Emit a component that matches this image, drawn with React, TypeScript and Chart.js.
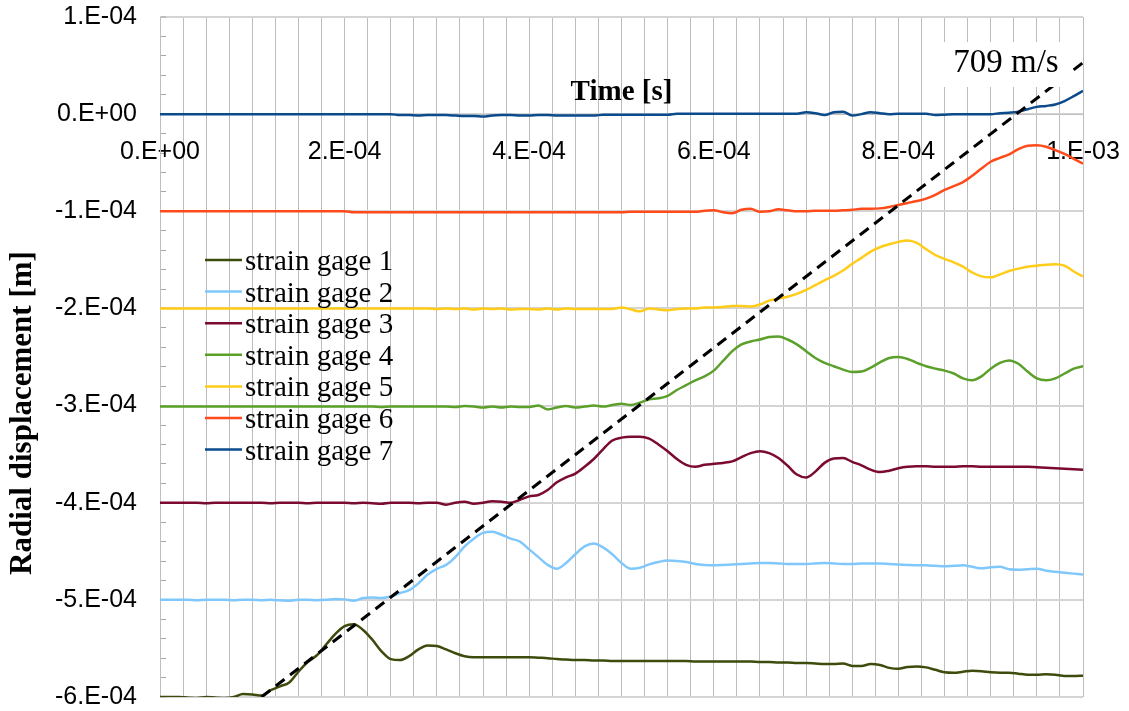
import { useEffect, useRef } from 'react';
import { Chart, registerables } from 'chart.js';

Chart.register(...registerables);

// ---------- DATA ----------
const times = [
  0, 1e-5, 2e-5, 3e-5, 4e-5, 5e-5, 6e-5, 7e-5, 8e-5, 9e-5,
  10e-5, 11e-5, 12e-5, 13e-5, 14e-5, 15e-5, 16e-5, 17e-5, 18e-5, 19e-5,
  20e-5, 21e-5, 22e-5, 23e-5, 24e-5, 25e-5, 26e-5, 27e-5, 28e-5, 29e-5,
  30e-5, 31e-5, 32e-5, 33e-5, 34e-5, 35e-5, 36e-5, 37e-5, 38e-5, 39e-5,
  40e-5, 41e-5, 42e-5, 43e-5, 44e-5, 45e-5, 46e-5, 47e-5, 48e-5, 49e-5,
  50e-5, 51e-5, 52e-5, 53e-5, 54e-5, 55e-5, 56e-5, 57e-5, 58e-5, 59e-5,
  60e-5, 61e-5, 62e-5, 63e-5, 64e-5, 65e-5, 66e-5, 67e-5, 68e-5, 69e-5,
  70e-5, 71e-5, 72e-5, 73e-5, 74e-5, 75e-5, 76e-5, 77e-5, 78e-5, 79e-5,
  80e-5, 81e-5, 82e-5, 83e-5, 84e-5, 85e-5, 86e-5, 87e-5, 88e-5, 89e-5,
  90e-5, 91e-5, 92e-5, 93e-5, 94e-5, 95e-5, 96e-5, 97e-5, 98e-5, 99e-5,
  100e-5,
];

const gage1 = [
  -6.0e-4, -6.0e-4, -6.0e-4, -6.005e-4, -6.01e-4, -6.0e-4, -6.005e-4, -6.01e-4, -6.0e-4, -5.97e-4,
  -5.975e-4, -5.985e-4, -5.93e-4, -5.89e-4, -5.85e-4, -5.74e-4, -5.64e-4, -5.57e-4, -5.46e-4, -5.35e-4,
  -5.27e-4, -5.25e-4, -5.31e-4, -5.41e-4, -5.53e-4, -5.61e-4, -5.62e-4, -5.58e-4, -5.51e-4, -5.47e-4,
  -5.475e-4, -5.51e-4, -5.55e-4, -5.58e-4, -5.59e-4, -5.59e-4, -5.59e-4, -5.59e-4, -5.59e-4, -5.59e-4,
  -5.59e-4, -5.595e-4, -5.6e-4, -5.61e-4, -5.615e-4, -5.62e-4, -5.62e-4, -5.625e-4, -5.625e-4, -5.63e-4,
  -5.63e-4, -5.63e-4, -5.63e-4, -5.63e-4, -5.63e-4, -5.63e-4, -5.63e-4, -5.63e-4, -5.635e-4, -5.635e-4,
  -5.635e-4, -5.635e-4, -5.635e-4, -5.635e-4, -5.635e-4, -5.64e-4, -5.64e-4, -5.645e-4, -5.645e-4, -5.65e-4,
  -5.65e-4, -5.655e-4, -5.66e-4, -5.66e-4, -5.655e-4, -5.68e-4, -5.68e-4, -5.66e-4, -5.67e-4, -5.7e-4,
  -5.71e-4, -5.69e-4, -5.685e-4, -5.695e-4, -5.72e-4, -5.745e-4, -5.75e-4, -5.74e-4, -5.73e-4, -5.735e-4,
  -5.745e-4, -5.75e-4, -5.75e-4, -5.76e-4, -5.77e-4, -5.77e-4, -5.765e-4, -5.77e-4, -5.785e-4, -5.785e-4,
  -5.78e-4,
];

const gage2 = [
  -5.0e-4, -5.0e-4, -5.0e-4, -5.0e-4, -5.005e-4, -5.0e-4, -5.0e-4, -5.0e-4, -5.005e-4, -5.0e-4,
  -5.0e-4, -5.005e-4, -5.0e-4, -5.005e-4, -5.01e-4, -5.0e-4, -5.0e-4, -5.005e-4, -5.0e-4, -4.99e-4,
  -4.995e-4, -5.01e-4, -4.98e-4, -4.975e-4, -4.98e-4, -4.965e-4, -4.93e-4, -4.9e-4, -4.83e-4, -4.74e-4,
  -4.68e-4, -4.64e-4, -4.56e-4, -4.45e-4, -4.37e-4, -4.31e-4, -4.3e-4, -4.33e-4, -4.37e-4, -4.4e-4,
  -4.48e-4, -4.56e-4, -4.64e-4, -4.68e-4, -4.62e-4, -4.53e-4, -4.45e-4, -4.42e-4, -4.46e-4, -4.53e-4,
  -4.62e-4, -4.68e-4, -4.67e-4, -4.635e-4, -4.61e-4, -4.595e-4, -4.6e-4, -4.61e-4, -4.63e-4, -4.64e-4,
  -4.645e-4, -4.64e-4, -4.635e-4, -4.63e-4, -4.625e-4, -4.62e-4, -4.62e-4, -4.625e-4, -4.63e-4, -4.63e-4,
  -4.63e-4, -4.625e-4, -4.62e-4, -4.625e-4, -4.63e-4, -4.63e-4, -4.625e-4, -4.625e-4, -4.625e-4, -4.63e-4,
  -4.635e-4, -4.64e-4, -4.645e-4, -4.645e-4, -4.65e-4, -4.655e-4, -4.65e-4, -4.645e-4, -4.66e-4, -4.675e-4,
  -4.665e-4, -4.66e-4, -4.685e-4, -4.69e-4, -4.685e-4, -4.68e-4, -4.7e-4, -4.71e-4, -4.72e-4, -4.73e-4,
  -4.74e-4,
];

const gage3 = [
  -4.0e-4, -4.0e-4, -4.0e-4, -4.0e-4, -4.0e-4, -4.005e-4, -4.0e-4, -4.0e-4, -4.0e-4, -4.0e-4,
  -4.0e-4, -4.0e-4, -4.005e-4, -4.0e-4, -4.0e-4, -4.0e-4, -4.005e-4, -4.0e-4, -4.0e-4, -4.0e-4,
  -4.0e-4, -4.005e-4, -4.0e-4, -4.005e-4, -4.01e-4, -4.0e-4, -4.0e-4, -4.0e-4, -4.005e-4, -4.0e-4,
  -4.0e-4, -4.02e-4, -4.0e-4, -3.99e-4, -4.01e-4, -4.0e-4, -3.985e-4, -3.99e-4, -4.0e-4, -3.97e-4,
  -3.935e-4, -3.92e-4, -3.87e-4, -3.79e-4, -3.74e-4, -3.7e-4, -3.63e-4, -3.55e-4, -3.45e-4, -3.36e-4,
  -3.33e-4, -3.32e-4, -3.32e-4, -3.34e-4, -3.4e-4, -3.47e-4, -3.55e-4, -3.61e-4, -3.63e-4, -3.61e-4,
  -3.6e-4, -3.59e-4, -3.575e-4, -3.53e-4, -3.49e-4, -3.47e-4, -3.49e-4, -3.54e-4, -3.62e-4, -3.71e-4,
  -3.74e-4, -3.68e-4, -3.59e-4, -3.545e-4, -3.54e-4, -3.58e-4, -3.615e-4, -3.66e-4, -3.685e-4, -3.67e-4,
  -3.645e-4, -3.63e-4, -3.625e-4, -3.625e-4, -3.63e-4, -3.63e-4, -3.63e-4, -3.625e-4, -3.625e-4, -3.63e-4,
  -3.63e-4, -3.63e-4, -3.63e-4, -3.63e-4, -3.63e-4, -3.635e-4, -3.64e-4, -3.645e-4, -3.65e-4, -3.655e-4,
  -3.66e-4,
];

const gage4 = [
  -3.01e-4, -3.01e-4, -3.01e-4, -3.01e-4, -3.01e-4, -3.01e-4, -3.01e-4, -3.01e-4, -3.01e-4, -3.01e-4,
  -3.01e-4, -3.01e-4, -3.01e-4, -3.01e-4, -3.01e-4, -3.01e-4, -3.01e-4, -3.01e-4, -3.01e-4, -3.01e-4,
  -3.01e-4, -3.01e-4, -3.01e-4, -3.01e-4, -3.015e-4, -3.01e-4, -3.01e-4, -3.01e-4, -3.01e-4, -3.01e-4,
  -3.01e-4, -3.01e-4, -3.015e-4, -3.005e-4, -3.01e-4, -3.02e-4, -3.01e-4, -3.02e-4, -3.01e-4, -3.015e-4,
  -3.015e-4, -3.0e-4, -3.04e-4, -3.02e-4, -3.005e-4, -3.02e-4, -3.01e-4, -3.0e-4, -3.01e-4, -2.995e-4,
  -2.98e-4, -2.995e-4, -2.97e-4, -2.935e-4, -2.925e-4, -2.9e-4, -2.84e-4, -2.79e-4, -2.74e-4, -2.7e-4,
  -2.64e-4, -2.54e-4, -2.44e-4, -2.37e-4, -2.34e-4, -2.32e-4, -2.295e-4, -2.29e-4, -2.32e-4, -2.37e-4,
  -2.44e-4, -2.51e-4, -2.56e-4, -2.595e-4, -2.63e-4, -2.655e-4, -2.65e-4, -2.61e-4, -2.555e-4, -2.51e-4,
  -2.5e-4, -2.52e-4, -2.56e-4, -2.595e-4, -2.62e-4, -2.64e-4, -2.67e-4, -2.72e-4, -2.74e-4, -2.7e-4,
  -2.62e-4, -2.56e-4, -2.535e-4, -2.57e-4, -2.65e-4, -2.72e-4, -2.74e-4, -2.72e-4, -2.67e-4, -2.62e-4,
  -2.595e-4,
];

const gage5 = [
  -2.0e-4, -2.0e-4, -2.0e-4, -2.0e-4, -2.0e-4, -2.0e-4, -2.0e-4, -2.0e-4, -2.0e-4, -2.0e-4,
  -2.0e-4, -2.0e-4, -2.0e-4, -2.0e-4, -2.0e-4, -2.0e-4, -2.0e-4, -2.0e-4, -2.0e-4, -2.0e-4,
  -2.0e-4, -2.0e-4, -2.0e-4, -2.0e-4, -2.0e-4, -2.0e-4, -2.0e-4, -2.0e-4, -2.0e-4, -2.0e-4,
  -2.005e-4, -2.0e-4, -2.005e-4, -2.0e-4, -2.01e-4, -2.0e-4, -2.005e-4, -2.0e-4, -2.01e-4, -2.005e-4,
  -2.005e-4, -2.01e-4, -2.0e-4, -2.01e-4, -2.0e-4, -2.005e-4, -2.005e-4, -2.005e-4, -2.005e-4, -2.005e-4,
  -1.99e-4, -2.01e-4, -2.03e-4, -2.0e-4, -2.01e-4, -2.02e-4, -2.005e-4, -2.0e-4, -2.0e-4, -1.99e-4,
  -1.99e-4, -1.985e-4, -1.975e-4, -1.975e-4, -1.98e-4, -1.96e-4, -1.92e-4, -1.9e-4, -1.88e-4, -1.85e-4,
  -1.81e-4, -1.76e-4, -1.71e-4, -1.665e-4, -1.61e-4, -1.54e-4, -1.48e-4, -1.415e-4, -1.37e-4, -1.34e-4,
  -1.315e-4, -1.3e-4, -1.325e-4, -1.39e-4, -1.45e-4, -1.49e-4, -1.525e-4, -1.57e-4, -1.63e-4, -1.67e-4,
  -1.68e-4, -1.65e-4, -1.615e-4, -1.59e-4, -1.57e-4, -1.56e-4, -1.55e-4, -1.545e-4, -1.56e-4, -1.62e-4,
  -1.67e-4,
];

const gage6 = [
  -1.0e-4, -1.0e-4, -1.0e-4, -1.0e-4, -1.0e-4, -1.0e-4, -1.0e-4, -1.0e-4, -1.0e-4, -1.0e-4,
  -1.0e-4, -1.0e-4, -1.0e-4, -1.0e-4, -1.0e-4, -1.0e-4, -1.0e-4, -1.0e-4, -1.0e-4, -1.0e-4,
  -1.0e-4, -1.01e-4, -1.01e-4, -1.01e-4, -1.01e-4, -1.01e-4, -1.01e-4, -1.01e-4, -1.01e-4, -1.01e-4,
  -1.01e-4, -1.01e-4, -1.01e-4, -1.01e-4, -1.01e-4, -1.01e-4, -1.01e-4, -1.01e-4, -1.01e-4, -1.01e-4,
  -1.01e-4, -1.01e-4, -1.01e-4, -1.01e-4, -1.01e-4, -1.01e-4, -1.01e-4, -1.01e-4, -1.01e-4, -1.01e-4,
  -1.01e-4, -1.005e-4, -1.005e-4, -1.005e-4, -1.005e-4, -1.005e-4, -1.005e-4, -1.005e-4, -1.005e-4, -0.995e-4,
  -0.99e-4, -1.01e-4, -1.02e-4, -0.985e-4, -0.975e-4, -1.005e-4, -1.0e-4, -0.98e-4, -0.99e-4, -1.0e-4,
  -1.0e-4, -0.995e-4, -0.995e-4, -0.995e-4, -0.99e-4, -0.985e-4, -0.975e-4, -0.975e-4, -0.97e-4, -0.955e-4,
  -0.935e-4, -0.915e-4, -0.895e-4, -0.87e-4, -0.83e-4, -0.78e-4, -0.74e-4, -0.7e-4, -0.635e-4, -0.56e-4,
  -0.49e-4, -0.45e-4, -0.415e-4, -0.36e-4, -0.325e-4, -0.32e-4, -0.335e-4, -0.37e-4, -0.41e-4, -0.46e-4,
  -0.51e-4,
];

const gage7 = [
  0, 0, 0, 0, 0, 0, 0, 0, 0, 0,
  0, 0, 0, 0, 0, 0, 0, 0, 0, 0,
  0, 0, 0, 0, 0, 0, -0.01e-4, -0.01e-4, -0.015e-4, -0.01e-4,
  -0.01e-4, -0.01e-4, -0.015e-4, -0.02e-4, -0.02e-4, -0.025e-4, -0.015e-4, -0.01e-4, -0.01e-4, -0.015e-4,
  -0.015e-4, -0.01e-4, -0.01e-4, -0.015e-4, -0.015e-4, -0.015e-4, -0.015e-4, -0.015e-4, -0.005e-4, -0.005e-4,
  -0.005e-4, -0.005e-4, -0.005e-4, -0.005e-4, -0.005e-4, -0.005e-4, 0.005e-4, 0.005e-4, 0.005e-4, 0.005e-4,
  0.005e-4, 0.005e-4, 0.005e-4, 0.005e-4, 0.005e-4, 0.005e-4, 0.005e-4, 0.005e-4, 0.005e-4, 0.005e-4,
  0.02e-4, 0.01e-4, -0.01e-4, 0.02e-4, 0.025e-4, -0.015e-4, 0.0, 0.02e-4, 0.01e-4, 0.0,
  0.005e-4, 0.005e-4, 0.005e-4, 0.005e-4, -0.01e-4, -0.005e-4, 0.0, 0.0, 0.0, 0.0,
  0.0, 0.01e-4, 0.015e-4, 0.025e-4, 0.05e-4, 0.075e-4, 0.085e-4, 0.1e-4, 0.135e-4, 0.185e-4,
  0.24e-4,
];

const gageSeries = [gage1, gage2, gage3, gage4, gage5, gage6, gage7];
const gageLabels = [
  'strain gage 1', 'strain gage 2', 'strain gage 3', 'strain gage 4',
  'strain gage 5', 'strain gage 6', 'strain gage 7',
];
const gageColors = ['#3d4b0c', '#80c8fc', '#7a0a2e', '#5ba02a', '#ffcc19', '#ff4a1a', '#0b4b8c'];

const waveFrontTimes = [1.1e-4, 1.0e-3];
const waveFrontValues = [-6.0e-4, 0.53e-4];
const waveFrontLabel = '709 m/s';

const xTickLabels = ['0.E+00', '2.E-04', '4.E-04', '6.E-04', '8.E-04', '1.E-03'];
const yTickLabels = ['-6.E-04', '-5.E-04', '-4.E-04', '-3.E-04', '-2.E-04', '-1.E-04', '0.E+00', '1.E-04'];
const xTitle = 'Time [s]';
const yTitle = 'Radial displacement [m]';

// ---------- DRAWING ----------
const SERIF = '"Liberation Serif", "Times New Roman", serif';
const SANS = '"Liberation Sans", Arial, sans-serif';

const overlayPlugin = {
  id: 'overlayTexts',
  afterDatasetsDraw(chart: any) {
    const { ctx, chartArea } = chart;
    const xs = chart.scales.x;
    const ys = chart.scales.y;
    ctx.save();

    // speed label box
    const boxRight = chartArea.right - 10;
    ctx.fillStyle = '#ffffff';
    ctx.fillRect(boxRight - 136, chartArea.top + 25, 136, 45);
    ctx.fillStyle = '#000000';
    ctx.font = `33px ${SERIF}`;
    ctx.textAlign = 'center';
    ctx.textBaseline = 'alphabetic';
    ctx.fillText(waveFrontLabel, boxRight - 67, chartArea.top + 55);

    // x axis title (above the axis line at y = 0)
    ctx.font = `bold 29px ${SERIF}`;
    ctx.fillText(xTitle, xs.getPixelForValue(5e-4), ys.getPixelForValue(0) - 14);

    // y axis title
    ctx.save();
    ctx.translate(31, (chartArea.top + chartArea.bottom) / 2 + 56);
    ctx.rotate(-Math.PI / 2);
    ctx.font = `bold 31px ${SERIF}`;
    ctx.fillText(yTitle, 0, 0);
    ctx.restore();

    // legend (overlaid, left middle of plot)
    const lx = chartArea.left + 45;
    const ly = chartArea.top + 243;
    ctx.font = `29px ${SERIF}`;
    ctx.textAlign = 'left';
    gageLabels.forEach((label, i) => {
      const y = ly + i * 31.6;
      ctx.strokeStyle = gageColors[i];
      ctx.lineWidth = 2.5;
      ctx.beginPath();
      ctx.moveTo(lx, y);
      ctx.lineTo(lx + 37, y);
      ctx.stroke();
      ctx.fillStyle = '#000000';
      ctx.fillText(label, lx + 40, y + 10);
    });

    ctx.restore();
  },
};

export default function App() {
  const canvasRef = useRef<HTMLCanvasElement | null>(null);

  useEffect(() => {
    const canvas = canvasRef.current;
    if (!canvas) return;

    const datasets: any[] = gageSeries.map((vals, k) => ({
      label: gageLabels[k],
      data: times.map((t, i) => ({ x: t, y: vals[i] })),
      borderColor: gageColors[k],
      backgroundColor: gageColors[k],
      borderWidth: 2.5,
      pointRadius: 0,
      cubicInterpolationMode: 'monotone',
      fill: false,
      order: -k,
    }));
    datasets.push({
      label: 'wave front',
      data: waveFrontTimes.map((t, i) => ({ x: t, y: waveFrontValues[i] })),
      borderColor: '#000000',
      borderWidth: 3,
      borderDash: [11, 7],
      pointRadius: 0,
      fill: false,
      order: -10,
    });

    const chart = new Chart(canvas, {
      type: 'line',
      data: { datasets },
      options: {
        animation: false,
        responsive: false,
        devicePixelRatio: 1,
        layout: { padding: { top: 17, right: 46, bottom: 14, left: 0 } },
        plugins: {
          legend: { display: false },
          tooltip: { enabled: false },
          title: { display: false },
        },
        scales: {
          x: {
            type: 'linear',
            position: { y: 0 } as any,
            min: 0,
            max: 1e-3,
            afterFit: (s: any) => {
              s.paddingLeft = 0;
              s.paddingRight = 0;
              s.paddingTop = 0;
              s.paddingBottom = 0;
            },
            ticks: {
              stepSize: 2.5e-5,
              autoSkip: false,
              maxRotation: 0,
              minRotation: 0,
              padding: 23,
              color: '#000000',
              font: { family: SANS, size: 25 },
              callback: (_v: any, i: number) => (i % 8 === 0 ? xTickLabels[i / 8] : ''),
            },
            grid: { color: '#bdbdbd', lineWidth: 1, drawTicks: false },
            border: { display: true, color: '#bfbfbf', width: 1 },
          },
          y: {
            type: 'linear',
            position: 'left',
            min: -6e-4,
            max: 1e-4,
            afterFit: (s: any) => {
              s.width = 160;
              s.paddingTop = 0;
              s.paddingBottom = 0;
              s.paddingLeft = 0;
              s.paddingRight = 0;
            },
            ticks: {
              stepSize: 2e-5,
              autoSkip: false,
              padding: 29,
              color: '#000000',
              font: { family: SANS, size: 25 },
              callback: (_v: any, i: number) => (i % 5 === 0 ? yTickLabels[i / 5] : ''),
            },
            grid: {
              color: (c: any) => (c.index % 5 === 0 ? '#d4d4d4' : 'rgba(0,0,0,0)'),
              lineWidth: (c: any) => (c.index % 5 === 0 ? 2 : 1),
              drawTicks: true,
              tickLength: -6,
              tickColor: '#a6a6a6',
              tickWidth: 1,
            },
            border: { display: true, color: '#bfbfbf', width: 1 },
          },
        },
      } as any,
      plugins: [overlayPlugin],
    });

    return () => chart.destroy();
  }, []);

  return (
    <div style={{ position: 'fixed', left: 0, top: 0, width: 1129, height: 711, background: '#ffffff' }}>
      <canvas ref={canvasRef} width={1129} height={711} style={{ display: 'block' }} />
    </div>
  );
}
